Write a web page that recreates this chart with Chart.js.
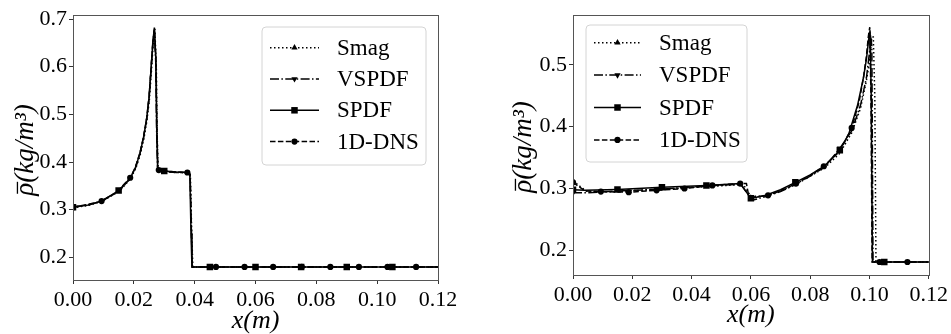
<!DOCTYPE html>
<html>
<head>
<meta charset="utf-8">
<script src="https://cdn.jsdelivr.net/npm/chart.js@4.4.1/dist/chart.umd.min.js"></script>
<style>
body{margin:0;background:#fff;width:951px;height:334px;position:relative;overflow:hidden}
.box{position:absolute;top:0;height:334px}
#b1{left:0;width:475px}
#b2{left:490px;width:461px}
</style>
</head>
<body>
<div class="box" id="b1"><canvas id="c1"></canvas></div>
<div class="box" id="b2"><canvas id="c2"></canvas></div>
<script>
// ---- left panel data ----
const lSmagX = [0, 0.005, 0.0094, 0.0153, 0.0188, 0.0206, 0.0221, 0.0233, 0.0243, 0.0251, 0.0258, 0.0264, 0.0269, 0.0274, 0.0277, 0.028, 0.0285, 0.03, 0.034, 0.0377, 0.0386, 0.039, 0.0394, 0.045, 0.06, 0.075, 0.09, 0.105, 0.12];
const lSmagY = [0.304, 0.309, 0.317, 0.339, 0.364, 0.386, 0.415, 0.449, 0.487, 0.53, 0.592, 0.65, 0.68, 0.6, 0.45, 0.389, 0.383, 0.38, 0.378, 0.377, 0.372, 0.26, 0.18, 0.18, 0.18, 0.18, 0.18, 0.18, 0.18];
const lSmagMarks = [0];

const lVspdfX = [0, 0.005, 0.0094, 0.0153, 0.0188, 0.0205, 0.022, 0.0232, 0.0242, 0.025, 0.0257, 0.0262, 0.0267, 0.0272, 0.0275, 0.0278, 0.0283, 0.03, 0.034, 0.0376, 0.0385, 0.0389, 0.0392, 0.045, 0.06, 0.075, 0.09, 0.105, 0.12];
const lVspdfY = [0.306, 0.31, 0.318, 0.34, 0.365, 0.387, 0.417, 0.451, 0.49, 0.534, 0.598, 0.648, 0.676, 0.61, 0.46, 0.388, 0.383, 0.38, 0.378, 0.378, 0.374, 0.27, 0.18, 0.18, 0.18, 0.18, 0.18, 0.18, 0.18];
const lVspdfMarks = [0];

const lSpdfX = [0, 0.005, 0.0094, 0.015, 0.0188, 0.0205, 0.022, 0.0232, 0.0242, 0.025, 0.0257, 0.0263, 0.02675, 0.0272, 0.0275, 0.0278, 0.0282, 0.03, 0.034, 0.0376, 0.0384, 0.0388, 0.0391, 0.045, 0.06, 0.075, 0.09, 0.105, 0.12];
const lSpdfY = [0.305, 0.31, 0.318, 0.34, 0.366, 0.388, 0.418, 0.452, 0.49, 0.535, 0.599, 0.655, 0.682, 0.62, 0.48, 0.39, 0.384, 0.381, 0.379, 0.378, 0.375, 0.25, 0.18, 0.18, 0.18, 0.18, 0.18, 0.18, 0.18];
const lSpdfMarks = [0, 0.015, 0.03, 0.045, 0.06, 0.075, 0.09, 0.105];

const lDnsX = [0, 0.0047, 0.0094, 0.0141, 0.0188, 0.0205, 0.022, 0.0232, 0.0242, 0.025, 0.0257, 0.0263, 0.0268, 0.0273, 0.0276, 0.0279, 0.0282, 0.03, 0.034, 0.0376, 0.0385, 0.0389, 0.0392, 0.047, 0.0564, 0.0658, 0.0752, 0.0846, 0.094, 0.1034, 0.1128, 0.12];
const lDnsY = [0.305, 0.311, 0.318, 0.335, 0.367, 0.389, 0.419, 0.453, 0.491, 0.535, 0.6, 0.652, 0.679, 0.61, 0.47, 0.39, 0.383, 0.381, 0.379, 0.378, 0.374, 0.26, 0.18, 0.18, 0.18, 0.18, 0.18, 0.18, 0.18, 0.18, 0.18, 0.18];
const dnsMarks = [0, 0.0094, 0.0188, 0.0282, 0.0376, 0.047, 0.0564, 0.0658, 0.0752, 0.0846, 0.094, 0.1034, 0.1128];

// ---- right panel data ----
const rSmagX = [0, 0.005, 0.015, 0.03, 0.045, 0.056, 0.0575, 0.06, 0.065, 0.07, 0.075, 0.08, 0.085, 0.09, 0.094, 0.097, 0.099, 0.1, 0.1008, 0.1013, 0.1018, 0.1022, 0.105, 0.12];
const rSmagY = [0.312, 0.294, 0.295, 0.299, 0.303, 0.306, 0.306, 0.287, 0.288, 0.296, 0.307, 0.32, 0.334, 0.357, 0.39, 0.43, 0.475, 0.505, 0.545, 0.545, 0.45, 0.181, 0.181, 0.181];
const rSmagMarks = [0];

const rVspdfX = [0, 0.005, 0.015, 0.03, 0.045, 0.0565, 0.0605, 0.065, 0.07, 0.075, 0.08, 0.085, 0.09, 0.094, 0.097, 0.099, 0.1, 0.1004, 0.1008, 0.1012, 0.105, 0.12];
const rVspdfY = [0.293, 0.293, 0.296, 0.299, 0.304, 0.307, 0.281, 0.287, 0.295, 0.306, 0.32, 0.335, 0.365, 0.393, 0.435, 0.48, 0.52, 0.548, 0.53, 0.181, 0.181, 0.181];
const rVspdfMarks = [0, 0.09];

const rSpdfX = [0, 0.004, 0.015, 0.03, 0.045, 0.0565, 0.06, 0.065, 0.07, 0.075, 0.08, 0.085, 0.09, 0.093, 0.096, 0.098, 0.099, 0.0997, 0.1002, 0.1006, 0.101, 0.105, 0.12];
const rSpdfY = [0.298, 0.297, 0.2985, 0.302, 0.305, 0.308, 0.284, 0.289, 0.298, 0.31, 0.322, 0.337, 0.362, 0.388, 0.435, 0.48, 0.51, 0.54, 0.556, 0.45, 0.181, 0.181, 0.181];
const rSpdfMarks = [0, 0.015, 0.03, 0.045, 0.06, 0.075, 0.09, 0.105];

const rDnsX = [0, 0.004, 0.0094, 0.0188, 0.0282, 0.0376, 0.047, 0.0564, 0.0585, 0.0592, 0.0615, 0.0658, 0.07, 0.0752, 0.08, 0.0846, 0.09, 0.094, 0.0965, 0.098, 0.099, 0.0996, 0.1001, 0.1005, 0.1009, 0.1034, 0.1128, 0.12];
const rDnsY = [0.31, 0.296, 0.295, 0.294, 0.297, 0.3, 0.305, 0.308, 0.308, 0.29, 0.286, 0.289, 0.296, 0.308, 0.321, 0.336, 0.36, 0.398, 0.44, 0.48, 0.515, 0.545, 0.561, 0.45, 0.181, 0.181, 0.181, 0.181];

const labels = ['Smag', 'VSPDF', 'SPDF', '1D-DNS'];
const xTicks = [0, 0.02, 0.04, 0.06, 0.08, 0.1, 0.12];

const F = 'Liberation Serif';
const styles = [
  {dash: [1.5, 2.5], point: 'triangle', rot: 0, r: 3.6},
  {dash: [9, 2.4, 1.5, 2.4], point: 'triangle', rot: 180, r: 3.6},
  {dash: [], point: 'rect', rot: 0, r: 4.6},
  {dash: [5.5, 2.4], point: 'circle', rot: 0, r: 3.1}
];

function series(i, xs, ys, marks) {
  let s = styles[i];
  return {
    label: labels[i],
    data: xs.map((x, k) => ({x: x, y: ys[k]})),
    borderColor: '#000', backgroundColor: '#000', borderWidth: 1.5,
    borderDash: s.dash, pointStyle: s.point, pointRotation: s.rot,
    pointRadius: c => (c.raw && marks.includes(c.raw.x)) ? s.r : 0,
    pointBorderWidth: 0, pointHoverRadius: 0, tension: 0, fill: false
  };
}

function markShape(ctx, st, x, y, r) {
  ctx.beginPath();
  if (st.point === 'circle') ctx.arc(x, y, r, 0, Math.PI * 2);
  else if (st.point === 'rect') { let h = r * Math.SQRT1_2; ctx.rect(x - h, y - h, 2 * h, 2 * h); }
  else {
    let d = st.rot ? -1 : 1;
    ctx.moveTo(x, y - d * r);
    ctx.lineTo(x + r * 0.87, y + d * r * 0.5);
    ctx.lineTo(x - r * 0.87, y + d * r * 0.5);
    ctx.closePath();
  }
  ctx.fill();
}

const boxLegend = {
  id: 'boxLegend',
  afterDraw(chart, args, o) {
    const ctx = chart.ctx;
    ctx.save();
    ctx.beginPath();
    ctx.roundRect(o.x0, o.y0, o.x1 - o.x0, o.y1 - o.y0, 4);
    ctx.fillStyle = 'rgba(255,255,255,0.85)';
    ctx.fill();
    ctx.strokeStyle = '#d4d4d4';
    ctx.lineWidth = 1;
    ctx.stroke();
    labels.forEach((lab, i) => {
      const y = o.ry + i * o.dy;
      const st = styles[i];
      ctx.strokeStyle = '#000'; ctx.fillStyle = '#000';
      ctx.lineWidth = 1.5;
      ctx.setLineDash(st.dash);
      ctx.beginPath(); ctx.moveTo(o.lx0, y); ctx.lineTo(o.lx1, y); ctx.stroke();
      ctx.setLineDash([]);
      markShape(ctx, st, (o.lx0 + o.lx1) / 2, y, st.r);
      ctx.font = '23px "' + F + '"';
      ctx.textBaseline = 'middle';
      ctx.textAlign = 'left';
      ctx.fillText(lab, o.tx, y + 1);
    });
    ctx.restore();
  }
};

// rotated y title with the bar over rho
const yTitle = {
  id: 'yTitle',
  afterDraw(chart, args, o) {
    const ctx = chart.ctx, size = 27;
    ctx.save();
    ctx.font = 'italic ' + size + 'px "' + F + '"';
    ctx.fillStyle = '#000'; ctx.strokeStyle = '#000';
    ctx.translate(o.x, o.y);
    ctx.rotate(-Math.PI / 2);
    const txt = 'ρ(kg/m³)';
    const w = ctx.measureText(txt).width, wr = ctx.measureText('ρ').width;
    const base = size * 0.3;
    ctx.textAlign = 'left'; ctx.textBaseline = 'alphabetic';
    ctx.fillText(txt, -w / 2, base);
    ctx.lineWidth = 1.3;
    ctx.beginPath();
    ctx.moveTo(-w / 2 + 2, base - size * 0.58);
    ctx.lineTo(-w / 2 + wr + 1, base - size * 0.58);
    ctx.stroke();
    ctx.restore();
  }
};

const frame = {
  id: 'frame',
  afterDraw(chart) {
    const a = chart.chartArea, ctx = chart.ctx;
    ctx.save();
    ctx.strokeStyle = '#555';
    ctx.lineWidth = 1;
    ctx.strokeRect(Math.round(a.left) + 0.5, Math.round(a.top) + 0.5, Math.round(a.right - a.left), Math.round(a.bottom - a.top));
    ctx.restore();
  }
};

function makeChart(id, sets, yMin, yMax, fit, leg, yt) {
  return new Chart(document.getElementById(id), {
    type: 'line',
    data: {datasets: sets},
    plugins: [frame, boxLegend, yTitle],
    options: {
      responsive: true, maintainAspectRatio: false, animation: false,
      layout: {padding: {top: fit.top, right: fit.right, left: 0, bottom: 0}},
      plugins: {legend: {display: false}, tooltip: {enabled: false}, boxLegend: leg, yTitle: yt},
      scales: {
        x: {
          type: 'linear', min: 0, max: 0.12,
          afterBuildTicks: s => { s.ticks = xTicks.map(v => ({value: v})); },
          ticks: {color: '#000', font: {family: F, size: 22}, padding: 3, maxRotation: 0, autoSkip: false, callback: v => v.toFixed(2)},
          grid: {display: true, drawOnChartArea: false, drawTicks: true, tickLength: 4, color: '#333'},
          border: {display: true, color: '#555'},
          title: {display: true, text: 'x(m)', color: '#000', font: {family: F, size: 26, style: 'italic', lineHeight: 1}, padding: {top: 0, bottom: fit.xpad}},
          afterFit: s => { s.height = fit.xh; }
        },
        y: {
          min: yMin, max: yMax,
          ticks: {stepSize: 0.1, includeBounds: false, color: '#000', font: {family: F, size: 22}, padding: 2, callback: v => v.toFixed(1)},
          grid: {display: true, drawOnChartArea: false, drawTicks: true, tickLength: 4, color: '#333'},
          border: {display: true, color: '#555'},
          afterFit: s => { s.width = fit.yw; }
        }
      }
    }
  });
}

makeChart('c1', [
  series(0, lSmagX, lSmagY, lSmagMarks),
  series(1, lVspdfX, lVspdfY, lVspdfMarks),
  series(2, lSpdfX, lSpdfY, lSpdfMarks),
  series(3, lDnsX, lDnsY, dnsMarks)
], 0.1525, 0.708,
  {top: 14, right: 37, yw: 73, xh: 54, xpad: 0},
  {x0: 262, y0: 27, x1: 426, y1: 165, lx0: 270, lx1: 319, tx: 337, ry: 47.7, dy: 31.3},
  {x: 25, y: 150});

makeChart('c2', [
  series(0, rSmagX, rSmagY, rSmagMarks),
  series(1, rVspdfX, rVspdfY, rVspdfMarks),
  series(2, rSpdfX, rSpdfY, rSpdfMarks),
  series(3, rDnsX, rDnsY, dnsMarks)
], 0.16, 0.5804,
  {top: 13, right: 18, yw: 83, xh: 59, xpad: 6},
  {x0: 96, y0: 25, x1: 257, y1: 162, lx0: 104, lx1: 151, tx: 169, ry: 42.7, dy: 32.4},
  {x: 33, y: 147});
</script>
</body>
</html>
